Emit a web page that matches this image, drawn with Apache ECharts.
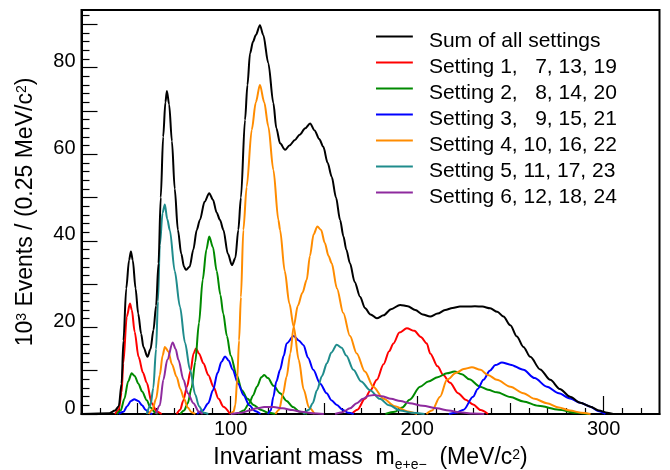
<!DOCTYPE html>
<html><head><meta charset="utf-8">
<script src="https://cdn.jsdelivr.net/npm/echarts@6/dist/echarts.min.js"></script>
<style>html,body{margin:0;padding:0;background:#fff}#c{width:670px;height:470px}</style>
</head><body><div id="c"></div>
<script>
// ---- axis ticks / labels ----
const xTickLabels = [100, 200, 300];
const xMidTicks = [50, 150, 250];
const yTickLabels = [0, 20, 40, 60, 80];
const yMidTicks = [10, 30, 50, 70, 90];

// ---- Sum of all settings ----
const sumAll = [[20,0],[35,0.2],[38,0.8],[40,1.8],[41.5,7],[42.5,17],[44,29],[45.5,35.5],[46.5,37.5],[47.5,35.5],[49,29],[50.4,23.2],[52,18.5],[53.2,15.5],[55.4,13.2],[57,15],[58.6,19.4],[60,25],[61.3,34.8],[62.5,50],[63.8,64],[65,72],[65.8,74.6],[67,71.5],[68.5,63],[70,52],[71.7,42.5],[73.5,37],[75,34],[76,33.3],[78,34],[80,38],[81.8,42.5],[83.5,44.8],[86,49],[88.5,51],[90.5,49.5],[92.5,46.5],[94.3,44.8],[96.1,42.5],[98.5,37],[100.7,34.4],[102.5,36],[104.1,42.5],[105.5,50],[107.7,67.9],[109,76],[110.4,83.3],[112,86],[113.5,87.5],[115.7,89.8],[117.5,87.5],[120.2,81],[122.9,71.8],[124.5,66],[126.5,62.5],[129.2,61],[131.5,62],[134.5,63.3],[137,64.5],[140,66],[142.6,67.1],[145,65.5],[147.5,63.5],[149.7,61.7],[152,58],[154.2,54.8],[156.5,50],[158.7,44.8],[160.5,41],[162,38],[164,34.8],[166.5,30.5],[169.4,27.1],[172,24.5],[175,23],[178.4,22.1],[182,22.8],[186,24.2],[190.9,25.2],[195,24.9],[199,24],[203,23],[207,22.5],[211,23.2],[215,24],[219,24.5],[223,24.8],[227,24.8],[231,24.9],[235,24.8],[239.2,24.4],[243,23.6],[246.3,22.5],[250,20.5],[253.5,17.9],[257,15.5],[260.7,13.2],[266,10.3],[271.4,7.9],[276.5,5.8],[282,4],[287.5,2.6],[293,1.7],[297.5,0.8],[302,0.3],[306,0],[330,0]];

// ---- Setting 1, 7, 13, 19 (red) ----
const set1A = [[38,0],[40,1],[41.5,5],[42.4,11.7],[44.3,22.5],[46,25.5],[47,24],[48.5,19],[50.6,13.2],[53,9.5],[55,7.2],[57.7,2.5],[60.4,0.5],[63,0]];
const set1B = [[71,0],[73,1],[74.5,3],[76.6,6.3],[78.5,10],[80.1,14],[81.4,15.1],[83,14],[85.4,11.7],[88,9],[90.8,6.3],[93.5,3.5],[96.1,1.7],[99.7,0]];
const set1C = [[165,0],[168,1],[172,3.5],[175,5.5],[178.4,7.9],[182,11.5],[185,14.5],[187.3,16.3],[190.5,18.8],[194.5,19.8],[198.5,19.2],[202,17.8],[205.2,16.3],[207,14],[211,11],[214,9],[217.7,7.2],[222,4.8],[226,3.3],[230,2.2],[234,0.9],[238,0]];

// ---- Setting 2, 8, 14, 20 (green) ----
const set2A = [[39,0],[41,0.8],[43,3.5],[45,7.5],[46.9,9.4],[48.5,8.8],[50.5,7],[52.5,5.2],[55,3.2],[57,1.5],[59.6,0.3],[61,0]];
const set2B = [[73,0],[75,0.8],[77,2.5],[79,6],[81,12],[83,21],[85,31],[87,38],[88.5,41],[90.5,38.5],[92.5,33],[94.5,27.5],[96,23.2],[98,18],[100,13.5],[103.2,9],[106,5.5],[109,3.5],[112.3,2.1],[116,1],[120,0.3],[124,0]];
const set2C = [[104,0],[107,0.8],[110,2.5],[112,4.3],[114.1,6.3],[116.5,8.5],[118,9],[120,8.3],[123,6.5],[126.5,4.8],[130,3],[133.5,1.6],[137,0.5],[141,0]];
const set2D = [[183,0],[188,0.5],[192,1.5],[196,3.3],[201.6,6.3],[206,7.5],[211,8.5],[216,9.4],[220,9.8],[224,9.2],[228,8],[233.8,6.3],[238,5.6],[242.8,5],[250,3.9],[257,2.9],[265,1.9],[276,1],[285,0.3],[292,0]];

// ---- Setting 3, 9, 15, 21 (blue) ----
const set3A = [[40,0],[42.5,0.5],[44.5,1.8],[46.5,3],[48.3,3.4],[50.5,3],[52.5,2],[54.5,0.9],[56.5,0.2],[58,0]];
const set3B = [[82,0],[85,0.8],[88,2.5],[90.5,5.5],[93,9.5],[95,12],[97,13.3],[99,12.3],[101,10.3],[104,7],[107,4.3],[110,2],[113,0.7],[116,0]];
const set3C = [[120,0],[121.5,0.8],[122.9,4],[124.5,7.5],[126.5,10.2],[128.5,13.5],[130,16.3],[133.8,18],[136.5,17],[139.1,15.9],[141.5,13],[144.3,10.2],[148,7],[151.5,4.8],[154,3.2],[157,2.1],[160,1],[163,0.3],[166,0]];
const set3D = [[217,0],[221,0.3],[225,1],[230,4],[232.5,5.8],[235.6,7.9],[239,10],[242,11.3],[245.5,11.9],[250,11.4],[257,10.2],[263,8.3],[269.6,6.3],[276,4.8],[282,3.6],[287.5,2.6],[292.9,1.7],[297,0.7],[301,0]];

// ---- Setting 4, 10, 16, 22 (orange) ----
const set4A = [[56,0],[58,1],[60,3.5],[62,9],[63.5,13.5],[64.7,15.5],[66.5,14.5],[68.5,11.5],[71,8.6],[73,5.8],[75,3.5],[77,1.5],[79,0.4],[81,0]];
const set4B = [[100,0],[101.5,0.5],[102.5,2],[103.5,8],[104.5,17],[105.5,27],[106.8,42.5],[108.6,52.5],[111.3,65.6],[113.5,72],[115.7,76],[118,72],[120.2,66.4],[122.9,56.4],[125.6,44.8],[126.5,42.5],[129,33],[131.5,25.5],[133.8,20.2],[136.5,12.5],[139.2,5.6],[142,1.5],[145,0]];
const set4C = [[124,0],[126,1],[128,4.5],[130,8.6],[132,14],[133.8,20.2],[136,25],[138.5,28],[140.8,31],[142.5,36.5],[144.5,41.5],[146.5,43.3],[148.5,42.5],[150.5,39.5],[152.5,36.5],[154.2,34.8],[157,29],[160.4,23.3],[164,18],[167.6,14],[172,9.8],[176.5,6.3],[182,3.5],[188,1.8],[195,0.6],[200,0]];
const set4D = [[205,0],[208,0.8],[212.3,4],[216,7.9],[221,9.5],[225,10.4],[229.4,10.8],[234,10.2],[238,9],[242.8,7.9],[250,6.3],[257,4.8],[263,3.5],[269.6,2.5],[276,1.5],[282,0.8],[288,0.3],[293,0]];

// ---- Setting 5, 11, 17, 23 (teal) ----
const set5A = [[55,0],[57,2],[58.5,6],[60,15],[61,26],[62,39],[63.5,46.5],[64.7,48.4],[66,45],[67.4,42.4],[70,33],[72.8,24.8],[75.5,16.5],[78.2,10.2],[81,4.5],[83,1.8],[85.5,0.3],[88,0]];
const set5B = [[139,0],[142,1],[144,2.5],[146.3,5.5],[149,8.8],[151.6,11.7],[154,14.2],[156.9,16],[159.5,15.3],[162,13.5],[165.8,10.2],[170,7.5],[174.8,5.5],[180,3.5],[185,2],[190.9,0.8],[197,0.3],[204,0]];

// ---- Setting 6, 12, 18, 24 (purple) ----
const set6A = [[60,0],[62,2],[63.9,7.9],[66,12.5],[68.9,16.5],[70.5,15],[72,12.5],[74.7,7.9],[77,4.8],[80,2.5],[83,0.5],[85,0]];
const set6B = [[100,0],[106,0.3],[110,0.8],[114,1.3],[118,1.6],[123,1.6],[128,1.3],[133,0.9],[138,0.5],[144,0.2],[150,0]];
const set6C = [[156,0],[160,0.4],[164,1.3],[167.6,2.5],[171,3.5],[174,4.2],[177,4.4],[181,4.1],[186,3.5],[191,3],[196,2.5],[203,1.9],[210.6,1.3],[217,0.8],[223,0.4],[230,0.1],[236,0]];

const names = ['Sum of all settings','Setting 1,   7, 13, 19','Setting 2,   8, 14, 20','Setting 3,   9, 15, 21','Setting 4, 10, 16, 22','Setting 5, 11, 17, 23','Setting 6, 12, 18, 24'];
const colors = ['#000000','#ff0000','#008a00','#0000ff','#ff8c00','#1f8c8c','#8e2a9e'];
const groups = [[sumAll],[set1A,set1B,set1C],[set2A,set2B,set2C,set2D],[set3A,set3B,set3C,set3D],[set4A,set4B,set4C,set4D],[set5A,set5B],[set6A,set6B,set6C]];

const FONT = '"Liberation Sans", Arial, Helvetica, sans-serif';
const XMIN = 20, XMAX = 330, YMIN = 0, YMAX = 93.3;

function range(a, b, s) { const r = []; for (let v = a; v <= b + 1e-9; v += s) r.push(+v.toFixed(6)); return r; }
const xMinor = range(30, 320, 10).filter(v => v % 50 !== 0);
const yMinor = range(2, 92, 2).filter(v => v % 10 !== 0);

const TITLE_RICH = {
  t: { fontSize: 23, fontFamily: FONT, color: '#000', lineHeight: 28, verticalAlign: 'middle' },
  sub: { fontSize: 14, fontFamily: FONT, color: '#000', lineHeight: 28, verticalAlign: 'bottom' },
  sup: { fontSize: 14, fontFamily: FONT, color: '#000', lineHeight: 28, verticalAlign: 'top', padding: [4,0,0,0] }
};

function xAx(ticks, len, main) {
  return {
    type: 'value', min: XMIN, max: XMAX, position: 'bottom', gridIndex: 0,
    axisLine: { show: main, onZero: false, lineStyle: { color: '#000', width: 2 } },
    axisTick: { show: true, inside: true, length: len, customValues: ticks, lineStyle: { color: '#000', width: 1.2 } },
    axisLabel: main ? { show: true, customValues: xTickLabels, color: '#000', fontSize: 20, fontFamily: FONT, margin: 5 } : { show: false },
    splitLine: { show: false },
    name: main ? '{t|Invariant mass  m}{sub|e+e\u2212}{t|  (MeV/c}{sup|2}{t|)}' : '',
    nameLocation: 'middle', nameGap: 28,
    nameTextStyle: { color: '#000', fontFamily: FONT, rich: TITLE_RICH }
  };
}
function yAx(ticks, len, main) {
  return {
    type: 'value', min: YMIN, max: YMAX, position: 'left', gridIndex: 0,
    axisLine: { show: main, onZero: false, lineStyle: { color: '#000', width: 2 } },
    axisTick: { show: true, inside: true, length: len, customValues: ticks, lineStyle: { color: '#000', width: 1.2 } },
    axisLabel: main ? { show: true, customValues: yTickLabels, color: '#000', fontSize: 20, fontFamily: FONT, margin: 6,
                        verticalAlign: 'bottom', lineHeight: 12 } : { show: false },
    splitLine: { show: false },
    name: main ? '{t|10}{sup|3}{t| Events / (0.25 MeV/c}{sup|2}{t|)}' : '',
    nameLocation: 'middle', nameRotate: 90, nameGap: 42,
    nameTextStyle: { color: '#000', fontFamily: FONT, rich: TITLE_RICH }
  };
}

const series = [];
for (let g = 1; g < groups.length; g++) {
  groups[g].forEach(seg => series.push({
    name: names[g], type: 'line', data: seg, xAxisIndex: 0, yAxisIndex: 0,
    showSymbol: false, symbol: 'none', silent: true, z: 3, smooth: 0.3, smoothMonotone: 'x',
    lineStyle: { color: colors[g], width: 2 }, itemStyle: { color: colors[g] }
  }));
}
series.push({
  name: names[0], type: 'line', data: sumAll, xAxisIndex: 0, yAxisIndex: 0,
  showSymbol: false, symbol: 'none', silent: true, z: 4, smooth: 0.3, smoothMonotone: 'x',
  lineStyle: { color: colors[0], width: 2 }, itemStyle: { color: colors[0] }
});

const chart = echarts.init(document.getElementById('c'), null, { renderer: 'canvas' });
chart.setOption({
  animation: false,
  backgroundColor: '#fff',
  grid: { left: 81.5, right: 10.5, top: 10, bottom: 56, containLabel: false, outerBoundsMode: 'none',
          show: true, borderColor: '#000', borderWidth: 2, backgroundColor: 'transparent' },
  xAxis: [xAx(xTickLabels, 18, true), xAx(xMidTicks, 11, false), xAx(xMinor, 6, false)],
  yAxis: [yAx(yTickLabels, 16, true), yAx(yMidTicks, 16, false), yAx(yMinor, 8, false)],
  legend: {
    data: names, orient: 'vertical', left: 376, top: 31, padding: 0,
    itemWidth: 37, itemHeight: 12, itemGap: 5, selectedMode: false,
    icon: 'path://M0,0H37V2H0Z M0,12H0.05V12.05H0Z',
    textStyle: { color: '#000', fontSize: 21, fontFamily: FONT, lineHeight: 21, padding: [0,0,0,11] }
  },
  series: series
});
</script></body></html>
